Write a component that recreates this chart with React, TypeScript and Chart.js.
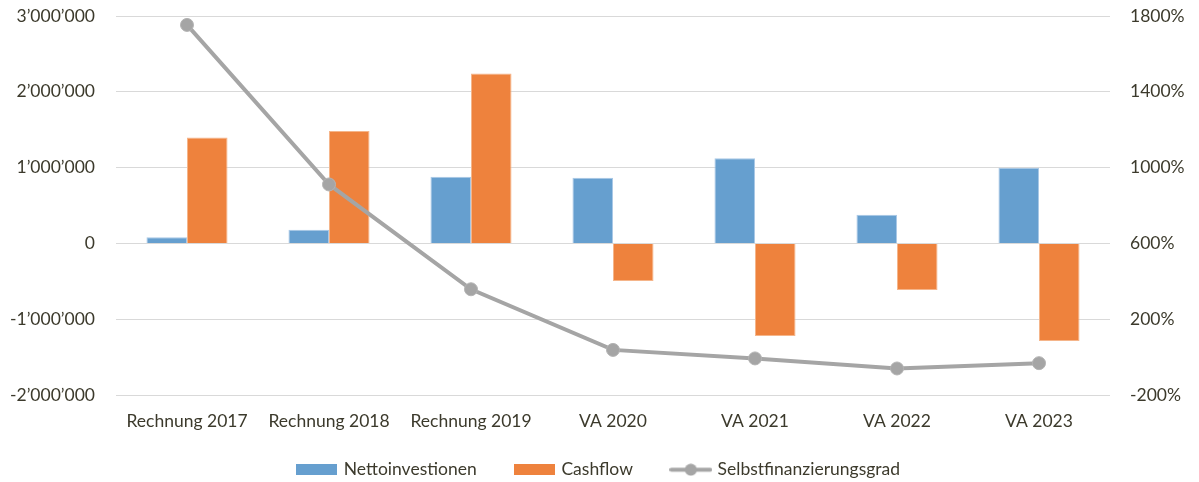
import React, { useEffect, useRef } from "react";
import { Chart, registerables } from "chart.js";

Chart.register(...registerables);

const categories = ["Rechnung 2017", "Rechnung 2018", "Rechnung 2019", "VA 2020", "VA 2021", "VA 2022", "VA 2023"];
const nettoinvestionen = [80000, 180000, 878000, 865000, 1123000, 378000, 997000];
const cashflow = [1396000, 1484000, 2243000, -496000, -1220000, -615000, -1286000];
const selbstfinanzierungsgrad = [1753, 911, 358, 38, -7, -60, -32];
const leftTicks = [-2000000, -1000000, 0, 1000000, 2000000, 3000000];
const rightTicks = [-200, 200, 600, 1000, 1400, 1800];

const TEXT = "#3c3a2c";
const BLUE = "#669fcf";
const ORANGE = "#ee823d";
const GRAY = "#a5a5a5";
const FONT = "Lato";
const FS = 17.5;

function fmt(n: number): string {
  const s = Math.abs(n).toString().replace(/\B(?=(\d{3})+(?!\d))/g, "\u2019");
  return (n < 0 ? "-" : "") + s;
}

function boxImg(color: string): HTMLCanvasElement {
  const c = document.createElement("canvas");
  c.width = 41;
  c.height = 11;
  const g = c.getContext("2d")!;
  g.fillStyle = color;
  g.fillRect(0, 0, 41, 11);
  return c;
}

function lineImg(): HTMLCanvasElement {
  const c = document.createElement("canvas");
  c.width = 43;
  c.height = 13;
  const g = c.getContext("2d")!;
  g.strokeStyle = GRAY;
  g.lineWidth = 4;
  g.lineCap = "round";
  g.beginPath();
  g.moveTo(2, 6.5);
  g.lineTo(41, 6.5);
  g.stroke();
  g.fillStyle = GRAY;
  g.beginPath();
  g.arc(21.5, 6.5, 6, 0, Math.PI * 2);
  g.fill();
  return c;
}

const LEGEND_PAD = 40;
const LEGEND_HEIGHT_CUT = 17;
const LEGEND_TOP_SHIFT = 17 + (LEGEND_PAD - 30);
const legendHeightPlugin = {
  id: "legendHeight",
  beforeLayout(chart: any) {
    const lg = chart.legend;
    if (lg && !lg._patched) {
      const orig = lg.fit.bind(lg);
      lg.fit = () => {
        orig();
        lg.height = 51 - LEGEND_HEIGHT_CUT;
      };
      lg._patched = true;
    }
  },
  afterLayout(chart: any) {
    const lg = chart.legend;
    if (lg) {
      lg.top -= LEGEND_TOP_SHIFT;
    }
  },
};

export default function App() {
  const ref = useRef<HTMLCanvasElement | null>(null);

  useEffect(() => {
    document.body.style.margin = "0";
    const imgs = [boxImg(BLUE), boxImg(ORANGE), lineImg()];
    const chart = new Chart(ref.current!, {
      type: "bar",
      plugins: [legendHeightPlugin],
      data: {
        labels: categories,
        datasets: [
          {
            type: "bar",
            label: "Nettoinvestionen",
            data: nettoinvestionen,
            backgroundColor: BLUE,
            borderColor: "#a9c8e6",
            borderWidth: 1,
            yAxisID: "y",
            categoryPercentage: 0.571,
            barPercentage: 1,
            order: 1,
          },
          {
            type: "bar",
            label: "Cashflow",
            data: cashflow,
            backgroundColor: ORANGE,
            borderColor: "#f5b58a",
            borderWidth: 1,
            yAxisID: "y",
            categoryPercentage: 0.571,
            barPercentage: 1,
            order: 1,
          },
          {
            type: "line",
            label: "Selbstfinanzierungsgrad",
            data: selbstfinanzierungsgrad,
            borderColor: GRAY,
            backgroundColor: GRAY,
            borderWidth: 4,
            pointRadius: 6.5,
            pointBackgroundColor: GRAY,
            pointBorderColor: "#b4b4b4",
            pointBorderWidth: 1,
            yAxisID: "y1",
            tension: 0,
            order: 0,
          } as any,
        ],
      },
      options: {
        animation: false,
        responsive: false,
        maintainAspectRatio: false,
        layout: { padding: { top: 0, left: 0, right: 0, bottom: 0 } },
        plugins: {
          tooltip: { enabled: false },
          legend: {
            position: "bottom",
            labels: {
              usePointStyle: true,
              pointStyleWidth: 36,
              boxHeight: 12,
              padding: LEGEND_PAD,
              color: TEXT,
              font: { family: FONT, size: FS },
              generateLabels: (ch: any) =>
                ch.data.datasets.map((d: any, i: number) => ({
                  text: d.label,
                  pointStyle: imgs[i],
                  fillStyle: "transparent",
                  strokeStyle: "transparent",
                  lineWidth: 0,
                  fontColor: TEXT,
                  hidden: false,
                  datasetIndex: i,
                })),
            },
          },
        },
        scales: {
          x: {
            grid: { display: false, drawTicks: false },
            border: { display: false },
            ticks: { color: TEXT, font: { family: FONT, size: FS }, padding: 16, maxRotation: 0 },
          },
          y: {
            position: "left",
            min: -2000000,
            max: 3000000,
            afterBuildTicks: (s: any) => {
              s.ticks = leftTicks.map((v) => ({ value: v }));
            },
            afterFit: (s: any) => {
              s.width = 116;
              s.paddingTop = 16;
              s.paddingBottom = 0;
            },
            grid: { color: "#d9d9d9", lineWidth: 1, drawTicks: false },
            border: { display: false },
            ticks: {
              color: TEXT,
              font: { family: FONT, size: FS },
              padding: 21,
              callback: (v: any) => fmt(Number(v)),
            },
          },
          y1: {
            position: "right",
            min: -200,
            max: 1800,
            afterBuildTicks: (s: any) => {
              s.ticks = rightTicks.map((v) => ({ value: v }));
            },
            afterFit: (s: any) => {
              s.width = 89;
              s.paddingTop = 16;
              s.paddingBottom = 0;
            },
            grid: { display: false, drawTicks: false },
            border: { display: false },
            ticks: {
              color: TEXT,
              font: { family: FONT, size: FS },
              padding: 20,
              callback: (v: any) => v + "%",
            },
          },
        },
      },
    });
    return () => chart.destroy();
  }, []);

  return (
    <div style={{ position: "absolute", left: 0, top: 0, width: 1199, height: 482 }}>
      <canvas ref={ref} width={1199} height={482} style={{ width: 1199, height: 482 }} />
    </div>
  );
}
